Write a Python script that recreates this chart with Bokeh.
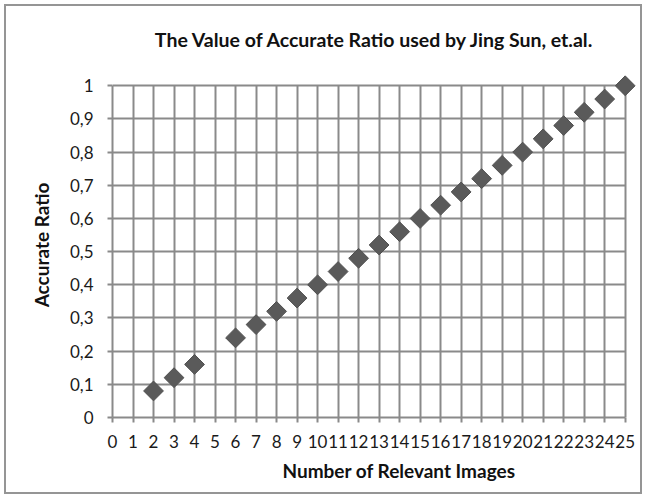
import math
from bokeh.plotting import figure
from bokeh.models import (Range1d, FixedTicker, CustomJSTickFormatter, Title,
                          ColumnDataSource)
from bokeh.embed import file_html
from bokeh.resources import INLINE

# ---- data ----
relevant_images = [2, 3, 4, 6, 7, 8, 9, 10, 11, 12, 13, 14, 15, 16, 17, 18, 19, 20, 21, 22, 23, 24, 25]
accurate_ratio = [0.08, 0.12, 0.16, 0.24, 0.28, 0.32, 0.36, 0.40, 0.44, 0.48, 0.52, 0.56, 0.60,
                  0.64, 0.68, 0.72, 0.76, 0.80, 0.84, 0.88, 0.92, 0.96, 1.00]
x_ticks = list(range(0, 26))
y_ticks = [0, 0.1, 0.2, 0.3, 0.4, 0.5, 0.6, 0.7, 0.8, 0.9, 1.0]

title_text = "The Value of Accurate Ratio used by Jing Sun, et.al."
x_title = "Number of Relevant Images"
y_title = "Accurate Ratio"

FONT = "Lato"
GRID = "#8a8a8a"
TXT = "#111111"

p = figure(width=646, height=498, output_backend="svg", toolbar_location=None,
           x_range=Range1d(0, 25.6), y_range=Range1d(0, 1.04),
           min_border_left=112, min_border_right=9, min_border_top=72, min_border_bottom=81)
p.outline_line_color = None
p.background_fill_color = "white"
p.border_fill_color = None
p.styles = {"background-color": "white",
            "box-shadow": "inset 0 0 0 4px white, inset 0 0 0 6px #959595"}

p.title.text = title_text
p.title.align = "center"
p.title.text_font = FONT
p.title.text_font_style = "bold"
p.title.text_font_size = "19.5px"
p.title.text_color = TXT
p.title.standoff = 44

for ax in (p.xaxis[0], p.yaxis[0]):
    ax.axis_line_color = GRID
    ax.axis_line_width = 2
    ax.major_tick_line_color = GRID
    ax.major_tick_line_width = 2
    ax.major_tick_in = 0
    ax.major_tick_out = 5
    ax.minor_tick_line_color = None
    ax.major_label_text_font = FONT
    ax.major_label_text_font_size = "17px"
    ax.major_label_text_color = "#1a1a1a"

p.xaxis[0].ticker = FixedTicker(ticks=x_ticks)
p.xaxis[0].bounds = (0, 25)
p.xaxis[0].major_label_standoff = 12
p.yaxis[0].ticker = FixedTicker(ticks=y_ticks)
p.yaxis[0].bounds = (0, 1)
p.yaxis[0].major_label_standoff = 14
p.yaxis[0].formatter = CustomJSTickFormatter(
    code="return (Math.round(tick*10)/10).toString().replace('.', ',');")

p.xgrid[0].ticker = FixedTicker(ticks=x_ticks)
p.xgrid[0].bounds = (0, 25)
p.xgrid[0].cross_bounds = (0, 1)
p.ygrid[0].ticker = FixedTicker(ticks=y_ticks)
p.ygrid[0].bounds = (0, 1)
p.ygrid[0].cross_bounds = (0, 25)
for g in (p.xgrid[0], p.ygrid[0]):
    g.grid_line_color = GRID
    g.grid_line_width = 2

src = ColumnDataSource(dict(x=relevant_images, y=accurate_ratio))
p.scatter("x", "y", source=src, marker="square", size=14, angle=math.pi / 4,
          fill_color="#5a5a5a", line_color="#505050", line_width=1)

p.add_layout(Title(text=x_title, align="left", offset=170, standoff=13,
                   text_font=FONT, text_font_style="bold", text_font_size="19px",
                   text_color=TXT), "below")
p.add_layout(Title(text=y_title, align="center", standoff=28,
                   text_font=FONT, text_font_style="bold", text_font_size="19px",
                   text_color=TXT), "left")

open("out.html", "w").write(file_html(p, INLINE))
